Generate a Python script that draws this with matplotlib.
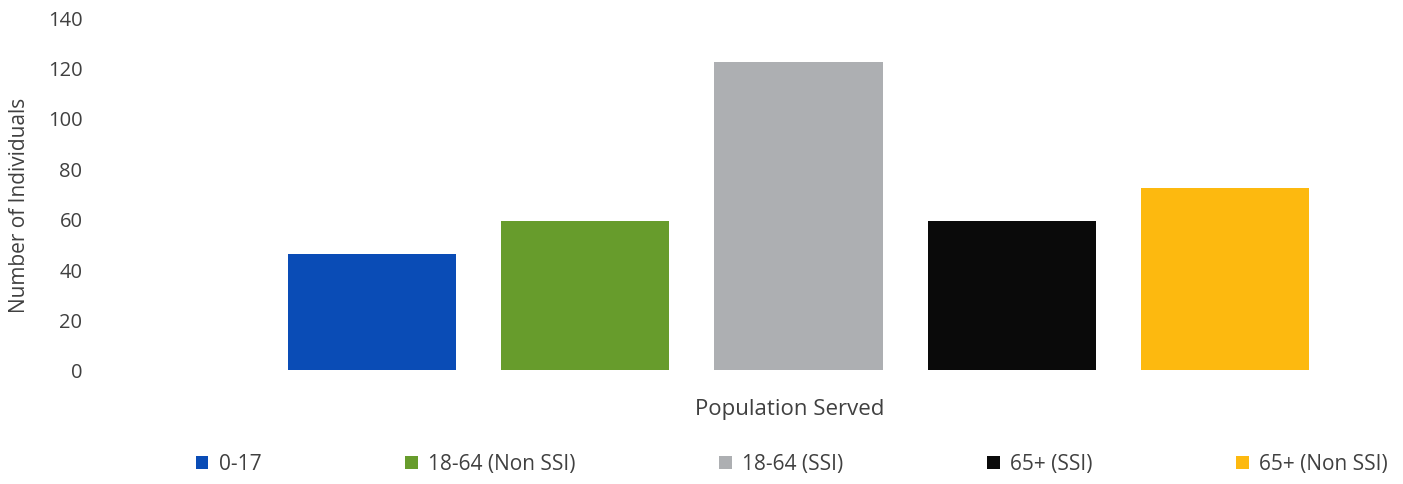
import matplotlib
matplotlib.use("Agg")
import matplotlib.pyplot as plt

categories = ["0-17", "18-64 (Non SSI)", "18-64 (SSI)", "65+ (SSI)", "65+ (Non SSI)"]
values = [46, 59, 122, 59, 72]
colors = ["#0A4CB6", "#679C2C", "#ADAFB2", "#0A0A0A", "#FDB90F"]
yticks = [0, 20, 40, 60, 80, 100, 120, 140]

plt.rcParams['font.family'] = ['Open Sans', 'DejaVu Sans']
W, H = 1403, 485
fig = plt.figure(figsize=(W / 100, H / 100), dpi=100)
L, R = 95, 1400
bot, top = 371, 18
ax = fig.add_axes([L / W, (H - bot) / H, (R - L) / W, (bot - top) / H])

x = list(range(len(categories)))
bars = ax.bar(x, values, width=0.79, color=colors)
px_per_unit = 213.25
ax.set_xlim((L - 372) / px_per_unit, (R - 372) / px_per_unit)
ax.set_ylim(0, 140)
ax.set_yticks(yticks)
ax.set_yticklabels([str(t) for t in yticks], fontsize=14.5, color="#404040")
ax.set_xticks([])
ax.tick_params(axis='y', length=0, pad=9)
for s in ax.spines.values():
    s.set_visible(False)
ax.set_ylabel("Number of Individuals", fontsize=15, color="#404040")
ax.yaxis.set_label_coords((20 - L) / (R - L), 0.47)
ax.yaxis.label.set_va("center")
fig.text(790 / W, 1 - 410 / H, "Population Served", ha="center", va="center",
         fontsize=16, color="#404040")

leg = fig.legend(bars, categories, ncol=5, loc="center", bbox_to_anchor=(792 / W, 1 - 465 / H),
                 frameon=False, fontsize=15, handlelength=0.6, handleheight=0.6,
                 handletextpad=0.5, columnspacing=6.9)
for t in leg.get_texts():
    t.set_color("#404040")

fig.savefig("out.png", dpi=100)
